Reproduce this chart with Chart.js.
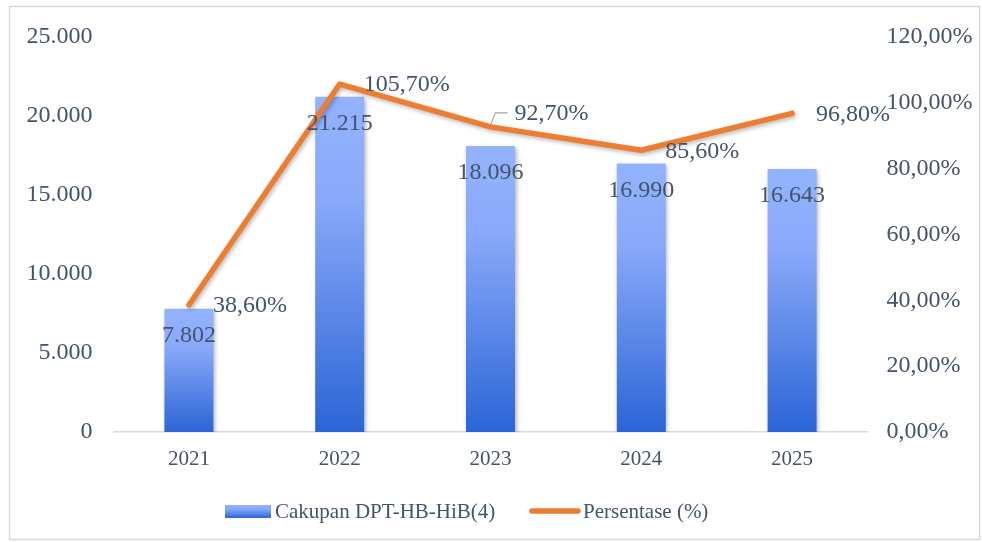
<!DOCTYPE html>
<html>
<head>
<meta charset="utf-8">
<script src="https://cdn.jsdelivr.net/npm/chart.js@4/dist/chart.umd.min.js"></script>
<style>
  html, body { margin: 0; padding: 0; background: #fff; }
  #wrap { width: 982px; height: 542px; }
</style>
</head>
<body>
<div id="wrap"><canvas id="comboChart" width="982" height="542"></canvas></div>
<script>
// ================= D A T A =================
const years = ['2021', '2022', '2023', '2024', '2025'];
const coverage = [7802, 21215, 18096, 16990, 16643];
const percent = [38.6, 105.7, 92.7, 85.6, 96.8];
const barLabel = 'Cakupan DPT-HB-HiB(4)';
const lineLabel = 'Persentase (%)';
const leftAxis = { min: 0, max: 25000, step: 5000 };
const rightAxis = { min: 0, max: 120, step: 20 };

const TEXT = '#44546A';
const SERIF = '"Liberation Serif", "Times New Roman", serif';

const fmtThousand = v => Math.round(v).toString().replace(/\B(?=(\d{3})+(?!\d))/g, '.');
const fmtPct = v => v.toFixed(2).replace('.', ',') + '%';

function barGradient(ctx, top, base) {
  const g = ctx.createLinearGradient(0, top, 0, base);
  g.addColorStop(0, '#93B2FF');
  g.addColorStop(0.3, '#8AA9F9');
  g.addColorStop(1, '#2B65D6');
  return g;
}

// ================= P L U G I N S =================
const frame = {
  id: 'frame',
  beforeDraw(chart) {
    const c = chart.ctx;
    c.save();
    c.fillStyle = '#fff';
    c.fillRect(0, 0, chart.width, chart.height);
    c.strokeStyle = '#D9D9D9';
    c.lineWidth = 1.5;
    c.strokeRect(9.5, 6.5, 970, 533);
    c.restore();
  }
};

const shadow = {
  id: 'shadow',
  beforeDatasetDraw(chart) {
    const c = chart.ctx;
    c.save();
    c.shadowColor = 'rgba(0,0,0,0.28)';
    c.shadowBlur = 4;
    c.shadowOffsetX = 1.5;
    c.shadowOffsetY = 2;
  },
  afterDatasetDraw(chart) {
    chart.ctx.restore();
  }
};

// value labels (no datalabels plugin available offline)
const valueLabels = {
  id: 'valueLabels',
  afterDatasetsDraw(chart) {
    const c = chart.ctx;
    c.save();
    c.font = '24px ' + SERIF;
    c.fillStyle = TEXT;
    c.textBaseline = 'middle';

    // bars: centered, just below the top
    c.textAlign = 'center';
    chart.getDatasetMeta(0).data.forEach((bar, i) => {
      c.fillText(fmtThousand(coverage[i]), bar.x, bar.y + 27);
    });

    // line: to the right of each point
    c.textAlign = 'left';
    chart.getDatasetMeta(1).data.forEach((pt, i) => {
      let dy = 0;
      if (i === 2) {
        // this one was dragged up in the original, with a leader line
        dy = -14;
        c.strokeStyle = '#A6A6A6';
        c.lineWidth = 1.2;
        c.beginPath();
        c.moveTo(pt.x, pt.y - 2);
        c.lineTo(pt.x + 5, pt.y + dy);
        c.lineTo(pt.x + 17, pt.y + dy);
        c.stroke();
      }
      c.fillText(fmtPct(percent[i]), pt.x + 24, pt.y + dy + 1);
    });
    c.restore();
  }
};

const bottomLegend = {
  id: 'bottomLegend',
  afterDraw(chart) {
    const c = chart.ctx;
    const y = 511;
    c.save();
    c.font = '21px ' + SERIF;
    c.fillStyle = TEXT;
    c.textBaseline = 'middle';
    c.textAlign = 'left';

    // bar swatch
    let x = 225;
    c.fillStyle = barGradient(c, y - 6, y + 7);
    c.fillRect(x, y - 6, 46, 13);
    c.fillStyle = TEXT;
    c.fillText(barLabel, x + 50, y + 1);

    // line swatch
    x = 532;
    c.strokeStyle = '#ED7D31';
    c.lineWidth = 5.5;
    c.lineCap = 'round';
    c.beginPath();
    c.moveTo(x, y);
    c.lineTo(x + 46, y);
    c.stroke();
    c.fillText(lineLabel, x + 51, y + 1);
    c.restore();
  }
};

// ================= C H A R T =================
const el = document.getElementById('comboChart');

new Chart(el, {
  type: 'bar',
  data: {
    labels: years,
    datasets: [
      {
        type: 'bar',
        label: barLabel,
        data: coverage,
        yAxisID: 'y',
        order: 2,
        categoryPercentage: 1,
        barPercentage: 0.325,
        backgroundColor: (ctx) => {
          const chart = ctx.chart;
          if (!chart.chartArea || ctx.type !== 'data') return '#7FA0F5';
          const s = chart.scales.y;
          return barGradient(chart.ctx, s.getPixelForValue(ctx.raw), s.getPixelForValue(0));
        }
      },
      {
        type: 'line',
        label: lineLabel,
        data: percent,
        yAxisID: 'y1',
        order: 1,
        borderColor: '#ED7D31',
        borderWidth: 5.5,
        borderCapStyle: 'round',
        borderJoinStyle: 'round',
        pointRadius: 0,
        pointHoverRadius: 0,
        tension: 0,
        fill: false
      }
    ]
  },
  options: {
    responsive: false,
    animation: false,
    layout: { padding: { top: 37, left: 0, right: 0, bottom: 0 } },
    plugins: {
      legend: { display: false },
      tooltip: { enabled: false }
    },
    scales: {
      x: {
        grid: { display: false, drawTicks: false },
        border: { display: true, color: '#D9D9D9', width: 1.5 },
        ticks: { color: TEXT, font: { family: SERIF, size: 21 }, padding: 15 },
        afterFit: (s) => { s.height = 110; }
      },
      y: {
        position: 'left',
        min: leftAxis.min,
        max: leftAxis.max,
        grid: { display: false, drawTicks: false },
        border: { display: false },
        ticks: {
          stepSize: leftAxis.step,
          color: TEXT,
          font: { family: SERIF, size: 24 },
          padding: 21,
          callback: v => fmtThousand(v)
        },
        afterFit: (s) => { s.width = 113.5; }
      },
      y1: {
        position: 'right',
        min: rightAxis.min,
        max: rightAxis.max,
        grid: { display: false, drawTicks: false },
        border: { display: false },
        ticks: {
          stepSize: rightAxis.step,
          color: TEXT,
          font: { family: SERIF, size: 24 },
          padding: 19,
          callback: v => fmtPct(v)
        },
        afterFit: (s) => { s.width = 114.5; }
      }
    }
  },
  plugins: [frame, shadow, valueLabels, bottomLegend]
});
</script>
</body>
</html>
